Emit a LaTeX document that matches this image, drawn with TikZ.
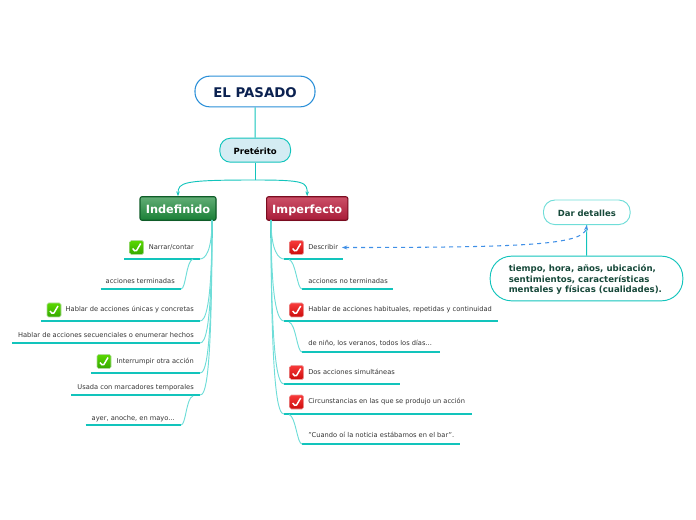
\documentclass[tikz,border=0pt]{standalone}
\usepackage{fontspec}
\usetikzlibrary{arrows.meta,shadows}
\setmainfont{DejaVu Sans}
\definecolor{tealline}{HTML}{12C4BC}
\definecolor{paleline}{HTML}{6FDDD8}
\definecolor{rootblue}{HTML}{2A8FD8}
\definecolor{navytext}{HTML}{0B2150}
\definecolor{pretfill}{HTML}{D4ECF3}
\definecolor{darkgreen}{HTML}{17493A}
\definecolor{leaftext}{HTML}{333333}
\definecolor{dashblue}{HTML}{3F8FE6}
\definecolor{indtop}{HTML}{62AE76}
\definecolor{indbot}{HTML}{1A7F36}
\definecolor{indline}{HTML}{0F5C28}
\definecolor{imptop}{HTML}{CC5068}
\definecolor{impbot}{HTML}{A81C38}
\definecolor{impline}{HTML}{7A0C20}
\definecolor{oktop}{HTML}{5AD800}
\definecolor{okbot}{HTML}{35A800}
\definecolor{notop}{HTML}{F83A3A}
\definecolor{nobot}{HTML}{CC0C0C}
\tikzset{
 rootbox/.style={draw=rootblue,fill=white,line width=.8pt,rounded corners=11pt,minimum width=90pt,minimum height=23pt,text height=10.8pt,text depth=2pt,font=\bfseries\fontsize{10}{12}\selectfont,text=navytext},
 pretbox/.style={draw=tealline,fill=pretfill,line width=.7pt,rounded corners=8pt,minimum width=53pt,minimum height=18pt,text height=7.7pt,text depth=1.5pt,font=\bfseries\fontsize{6.4}{8}\selectfont,text=black},
 mainbox/.style={line width=.8pt,rounded corners=1.5pt,minimum height=17pt,text height=9.5pt,text depth=1.5pt,font=\bfseries\fontsize{8.5}{10}\selectfont,text=white,drop shadow={shadow xshift=.4pt,shadow yshift=-.6pt,opacity=.35}},
 leaftxt/.style={inner sep=0pt,text height=4.6pt,text depth=1pt,font=\fontsize{5}{6}\selectfont,text=leaftext},
 leafline/.style={tealline,line width=1.25pt},
 trunk/.style={paleline,line width=.7pt},
 chkbox/.style={rounded corners=1.2pt,minimum size=10.5pt,inner sep=0pt,path picture={
   \draw[white,line width=1.1pt,line join=round] ([shift={(-4,1)}]path picture bounding box.center) -- ++(3,3.5) -- ++(5,-8.5);}},
 okbox/.style={chkbox,top color=oktop,bottom color=okbot,draw=okbot!40},
 nobox/.style={chkbox,top color=notop,bottom color=nobot,draw=nobot!40},
 sidebox/.style={fill=white,line width=.7pt,text=darkgreen,font=\bfseries},
}
\begin{document}
\begin{tikzpicture}[x=.75pt,y=-.75pt,>=Stealth]
 \useasboundingbox (0,0) rectangle (696,520);
 % centre column
 \node[rootbox] (pasado) at (255,91.5) {EL PASADO};
 \node[pretbox] (pret) at (255.2,150.2) {Pretérito};
 \node[mainbox,draw=indline,top color=indtop,bottom color=indbot] (indef) at (178,208.5) [minimum width=57pt] {Indefinido};
 \node[mainbox,draw=impline,top color=imptop,bottom color=impbot] (imperf) at (307.2,208.5) [minimum width=61pt] {Imperfecto};
 \coordinate (fork) at (255.2,180);
 \draw[tealline,line width=.7pt] (pasado) -- (pret);
 \draw[tealline,line width=.7pt] (pret) -- (fork);
 \draw[tealline,line width=.7pt,-{Stealth[length=3.5pt]}] (fork) .. controls +(-72,0) and +(0,-14) .. (indef.north);
 \draw[tealline,line width=.7pt,-{Stealth[length=3.5pt]}] (fork) .. controls +(50,0) and +(0,-14) .. (imperf.north);

 % left branch
 \coordinate (indT) at (212,220);
 \coordinate (narA) at (124,259); \coordinate (narB) at (200,259);
 \coordinate (terA) at (100.5,289); \coordinate (terB) at (181,289);
 \coordinate (uniA) at (41,321); \coordinate (uniB) at (200,321);
 \coordinate (secA) at (12,343); \coordinate (secB) at (200,343);
 \coordinate (intA) at (91,373); \coordinate (intB) at (200,373);
 \coordinate (marA) at (71,395); \coordinate (marB) at (200,395);
 \coordinate (ayeA) at (85.5,425); \coordinate (ayeB) at (181,425);
 \node[leaftxt,anchor=east] (nar) at (194,247.5) {Narrar/contar};
 \node[leaftxt,anchor=east] (ter) at (175,281.5) {acciones terminadas};
 \node[leaftxt,anchor=east] (uni) at (194,309.5) {Hablar de acciones únicas y concretas};
 \node[leaftxt,anchor=east] (sec) at (194,335.5) {Hablar de acciones secuenciales o enumerar hechos};
 \node[leaftxt,anchor=east] (int) at (194,361.5) {Interrumpir otra acción};
 \node[leaftxt,anchor=east] (mar) at (194,387.5) {Usada con marcadores temporales};
 \node[leaftxt,anchor=east] (aye) at (175,418) {ayer, anoche, en mayo...};
 \node[okbox] (chkNar) at (136.7,247.5) {};
 \node[okbox] (chkUni) at (54,310) {};
 \node[okbox] (chkInt) at (104,361.5) {};
 \foreach \a/\b in {narA/narB,terA/terB,uniA/uniB,secA/secB,intA/intB,marA/marB,ayeA/ayeB}
  \draw[leafline] (\a) -- (\b);
 \draw[tealline,line width=.9pt] (indT) -- (212,238);
 \draw[trunk] (indT) .. controls +(0,32) and +(5,0) .. (narB);
 \draw[trunk] (indT) .. controls +(0,90) and +(5,0) .. (uniB);
 \draw[trunk] (indT) .. controls +(0,112) and +(5,0) .. (secB);
 \draw[trunk] (indT) .. controls +(0,142) and +(5,0) .. (intB);
 \draw[trunk] (indT) .. controls +(0,165) and +(5,0) .. (marB);
 \draw[trunk] (193,259) .. controls +(-7,2) and +(5,0) .. (terB);
 \draw[trunk] (193,396) .. controls +(-7,2) and +(5,0) .. (ayeB);

 % right branch
 \coordinate (impT) at (271,220);
 \coordinate (desA) at (284,259); \coordinate (desB) at (343,259);
 \coordinate (nteA) at (302,289); \coordinate (nteB) at (393,289);
 \coordinate (habA) at (284,321); \coordinate (habB) at (498,321);
 \coordinate (ninA) at (302,352); \coordinate (ninB) at (440,352);
 \coordinate (dosA) at (284,384); \coordinate (dosB) at (400,384);
 \coordinate (cirA) at (284,414); \coordinate (cirB) at (472,414);
 \coordinate (cuaA) at (302,444); \coordinate (cuaB) at (460,444);
 \node[leaftxt,anchor=west] (des) at (308,247.5) {Describir};
 \node[leaftxt,anchor=west] (nte) at (308,281.5) {acciones no terminadas};
 \node[leaftxt,anchor=west] (hab) at (308,309.5) {Hablar de acciones habituales, repetidas y continuidad};
 \node[leaftxt,anchor=west] (nin) at (308,343.5) {de niño, los veranos, todos los días...};
 \node[leaftxt,anchor=west] (dos) at (308,372.5) {Dos acciones simultáneas};
 \node[leaftxt,anchor=west] (cir) at (308,401.5) {Circunstancias en las que se produjo un acción};
 \node[leaftxt,anchor=west] (cua) at (308,435.5) {"Cuando oí la noticia estábamos en el bar".};
 \node[nobox] (chkDes) at (296.7,247.5) {};
 \node[nobox] (chkHab) at (296.7,310) {};
 \node[nobox] (chkDos) at (296.7,372.5) {};
 \node[nobox] (chkCir) at (296.7,402) {};
 \foreach \a/\b in {desA/desB,nteA/nteB,habA/habB,ninA/ninB,dosA/dosB,cirA/cirB,cuaA/cuaB}
  \draw[leafline] (\a) -- (\b);
 \draw[tealline,line width=.9pt] (impT) -- (271,238);
 \draw[trunk] (impT) .. controls +(0,32) and +(-5,0) .. (desA);
 \draw[trunk] (impT) .. controls +(0,90) and +(-5,0) .. (habA);
 \draw[trunk] (impT) .. controls +(0,152) and +(-5,0) .. (dosA);
 \draw[trunk] (impT) .. controls +(0,182) and +(-5,0) .. (cirA);
 \draw[trunk] (289,259.5) .. controls +(7,2) and +(-5,0) .. (nteA);
 \draw[trunk] (289,322) .. controls +(7,2) and +(-5,0) .. (ninA);
 \draw[trunk] (289,414.5) .. controls +(7,2) and +(-5,0) .. (cuaA);

 % right side
 \node[sidebox,draw=paleline,rounded corners=8.5pt,minimum width=65pt,minimum height=18.4pt,text height=7.5pt,text depth=1.5pt,font=\bfseries\fontsize{6.35}{8}\selectfont] (dar) at (586.8,212.3) {Dar detalles};
 \node[sidebox,draw=tealline,rounded corners=16pt,minimum width=144.5pt,minimum height=33.5pt] (tie) at (586.5,278.5) {};
 \node[inner sep=0pt,anchor=west,align=left,text=darkgreen,font=\bfseries\fontsize{6.45}{7.9}\selectfont] (tieT) at (508.5,279.6) {tiempo, hora, años, ubicación,\\sentimientos, características\\mentales y físicas (cualidades).};
 \draw[tealline,line width=.7pt] (tie) -- (dar);
 \coordinate (dashEnd) at (342,247.5);
 \draw[dashblue,line width=.8pt,dashed,{Stealth[length=4pt]}-{Stealth[length=4pt]}] (dashEnd) .. controls +(180,0) and +(-3,20) .. (dar.south);
\end{tikzpicture}
\end{document}
